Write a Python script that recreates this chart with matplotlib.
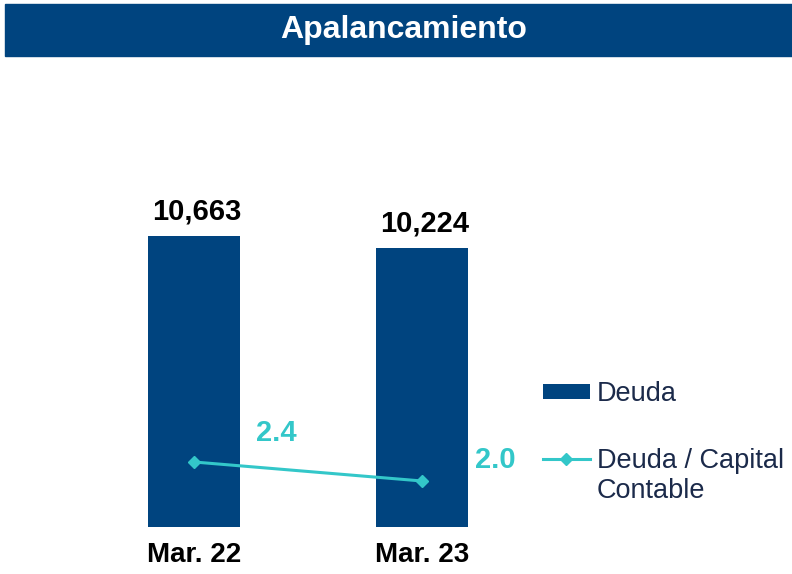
import matplotlib.pyplot as plt
from matplotlib.patches import Rectangle

plt.rcParams['font.family'] = ['Liberation Sans', 'DejaVu Sans']

periodos = ["Mar. 22", "Mar. 23"]
deuda = [10663, 10224]
deuda_capital = [2.4, 2.0]

azul = "#00447F"
turquesa = "#33C7C9"
texto_leyenda = "#1B2A4A"

fig = plt.figure(figsize=(7.92, 5.74), dpi=100)

# banda del titulo
fig.patches.append(Rectangle((5 / 792, 1 - 56 / 574), 1 - 5 / 792, 52 / 574,
                             transform=fig.transFigure, color=azul, zorder=0))
fig.text(0.51, 1 - 30 / 574, "Apalancamiento", color="white", fontsize=23,
         fontweight="bold", ha="center", va="center")

ax = fig.add_axes([80 / 792, 1 - 527 / 574, 456 / 792, 382 / 574])
x = list(range(len(periodos)))
barras = ax.bar(x, deuda, width=0.4035, color=azul, label="Deuda")
ax.set_xlim(-0.5, 1.5)
ax.set_ylim(0, 14000)
for xi, v in zip(x, deuda):
    ax.text(xi + 0.01, v + 400, f"{v:,}", ha="center", va="bottom", fontsize=21,
            fontweight="bold", color="black")
ax.set_xticks(x)
ax.set_xticklabels(periodos, fontsize=20, fontweight="bold")
ax.tick_params(axis="x", length=0, pad=11)
ax.set_yticks([])
for s in ax.spines.values():
    s.set_visible(False)

ax2 = ax.twinx()
linea, = ax2.plot(x, deuda_capital, color=turquesa, lw=2.2, marker="D",
                  markersize=6, label="Deuda / Capital Contable")
ax2.set_ylim(1.032, 9.07)
ax2.set_yticks([])
for s in ax2.spines.values():
    s.set_visible(False)
offsets = [(0.36, 0.6), (0.32, 0.45)]
for xi, v, (dx, dy) in zip(x, deuda_capital, offsets):
    ax2.text(xi + dx, v + dy, f"{v:.1f}", ha="center", va="center",
             fontsize=21, fontweight="bold", color=turquesa)

fig.legend([barras, linea], ["Deuda", "Deuda / Capital"],
           loc="upper left", bbox_to_anchor=(543 / 792, 1 - 381 / 574),
           frameon=False, fontsize=19.5, labelcolor=texto_leyenda, borderpad=0,
           borderaxespad=0, handlelength=1.73, handleheight=0.5,
           handletextpad=0.26, labelspacing=1.5)
fig.text(597 / 792, 1 - 491 / 574, "Contable", fontsize=19.5,
         color=texto_leyenda, ha="left", va="center")

fig.savefig("out.png", dpi=100)
